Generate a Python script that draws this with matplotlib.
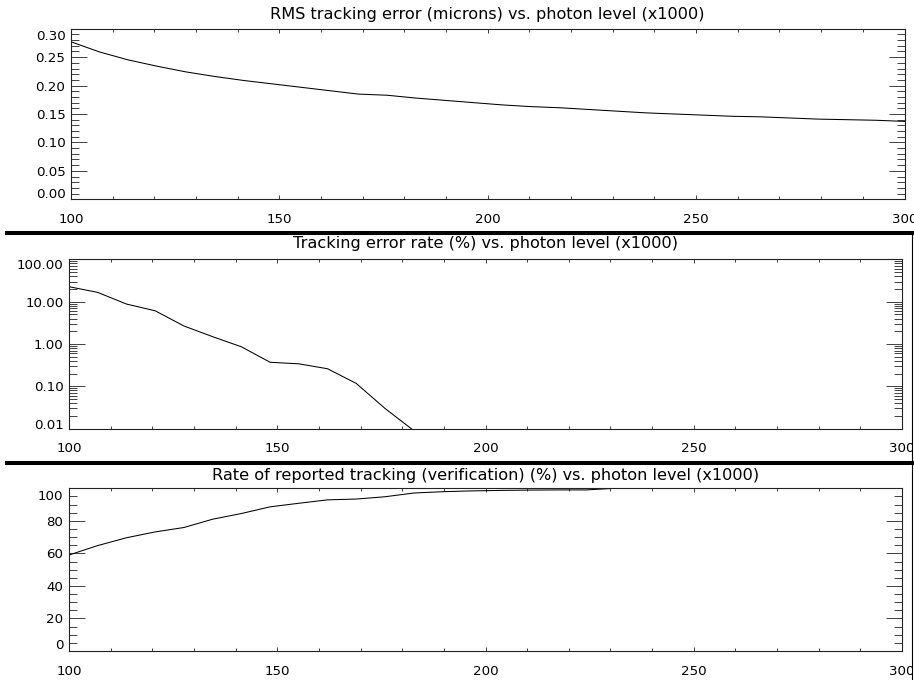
import numpy as np
import matplotlib
matplotlib.use("Agg")
import matplotlib.pyplot as plt
from matplotlib.ticker import MultipleLocator, FormatStrFormatter, LogLocator, NullFormatter
from matplotlib.transforms import ScaledTranslation
from matplotlib.lines import Line2D
from matplotlib.patches import Rectangle

# photon level (x1000), 30 samples between 100 and 300
photons = np.linspace(100, 300, 30)

rms_err = [0.277, 0.259, 0.245, 0.234, 0.224, 0.216, 0.209, 0.203, 0.197, 0.191,
           0.185, 0.183, 0.178, 0.174, 0.170, 0.166, 0.163, 0.161, 0.158, 0.155,
           0.152, 0.150, 0.148, 0.146, 0.145, 0.143, 0.141, 0.140, 0.139, 0.137]

# error rate drops to zero after ~183 (not drawable on log axis)
err_rate = [22.6, 16.6, 8.8, 6.1, 2.67, 1.49, 0.86, 0.37, 0.34, 0.26, 0.117, 0.03, 0.009]

verif_rate = [59.0, 64.8, 69.6, 73.2, 75.9, 81.0, 84.5, 88.6, 90.8, 92.9,
              93.4, 94.8, 97.1, 97.9, 98.4, 98.7, 98.9, 99.0, 99.0, 100.0]

titles = ["RMS tracking error (microns) vs. photon level (x1000)",
          "Tracking error rate (%) vs. photon level (x1000)",
          "Rate of reported tracking (verification) (%) vs. photon level (x1000)"]
xticks = [100, 150, 200, 250, 300]

W, H = 914, 680
plt.rcParams['font.family'] = ['DejaVu Sans']
fig = plt.figure(figsize=(W / 100, H / 100), dpi=100)


def px_axes(l, t, r, b):
    return fig.add_axes([l / W, 1 - b / H, (r - l) / W, (b - t) / H])


def style(ax, title, pad):
    ax.set_xlim(100, 300)
    ax.set_xticks(xticks)
    ax.xaxis.set_minor_locator(MultipleLocator(10))
    ax.tick_params(axis='both', which='both', direction='in', top=True, right=True,
                   labelsize=9.6, width=0.6, color='#222222')
    ax.tick_params(axis='x', which='major', length=3, pad=10.0)
    ax.tick_params(axis='x', which='minor', length=2)
    ax.tick_params(axis='y', which='major', length=11.5, pad=4.0)
    ax.tick_params(axis='y', which='minor', length=5.8)
    ax.set_title(title, fontsize=11.6, pad=pad)
    for s in ax.spines.values():
        s.set_linewidth(0.8)
        s.set_color('#222222')


def nudge_ends(ax, shift_px=6):
    # end labels sit a little inside the frame, as in the original plot
    ticks = ax.yaxis.get_major_ticks()
    d = shift_px / 100
    lo, hi = ticks[0].label1, ticks[-1].label1
    lo.set_transform(lo.get_transform() + ScaledTranslation(0, d, fig.dpi_scale_trans))
    hi.set_transform(hi.get_transform() + ScaledTranslation(0, -d, fig.dpi_scale_trans))


# panel 1
ax1 = px_axes(71, 28.7, 904.5, 199.3)
ax1.plot(photons, rms_err, color='black', lw=0.75)
style(ax1, titles[0], 6.8)
ax1.set_ylim(0, 0.30)
ax1.set_yticks([0.0, 0.05, 0.10, 0.15, 0.20, 0.25, 0.30])
ax1.yaxis.set_minor_locator(MultipleLocator(0.01))
ax1.yaxis.set_major_formatter(FormatStrFormatter('%.2f'))
nudge_ends(ax1)

# panel 2
ax2 = px_axes(69, 259.4, 902, 428.6)
ax2.plot(photons[:len(err_rate)], err_rate, color='black', lw=0.75)
ax2.set_yscale('log')
style(ax2, titles[1], 8.4)
ax2.set_ylim(0.01, 100)
ax2.set_yticks([0.01, 0.1, 1, 10, 100])
ax2.yaxis.set_minor_locator(LogLocator(base=10, subs=np.arange(2, 10)))
ax2.yaxis.set_minor_formatter(NullFormatter())
ax2.yaxis.set_major_formatter(FormatStrFormatter('%.2f'))
nudge_ends(ax2, 5)

# panel 3
ax3 = px_axes(69, 488.3, 902, 651)
ax3.plot(photons[:len(verif_rate)], verif_rate, color='black', lw=0.75)
style(ax3, titles[2], 6.0)
ax3.set_ylim(0, 100)
ax3.set_yticks([0, 20, 40, 60, 80, 100])
ax3.yaxis.set_minor_locator(MultipleLocator(5))
nudge_ends(ax3, 7)

# thick separators between the panels and right border
for y in (232.5, 462.5):
    fig.add_artist(Line2D([6.7 / W, 1], [1 - y / H] * 2, lw=2.9, color='black', zorder=6))
fig.add_artist(Rectangle((912.5 / W, 0), 2 / W, 1 - 234 / H, transform=fig.transFigure,
                         facecolor='white', edgecolor='none', zorder=5))
fig.add_artist(Line2D([912 / W] * 2, [0, 1 - 232 / H], lw=0.8, color='black', zorder=6))

fig.savefig("out.png", dpi=100)
